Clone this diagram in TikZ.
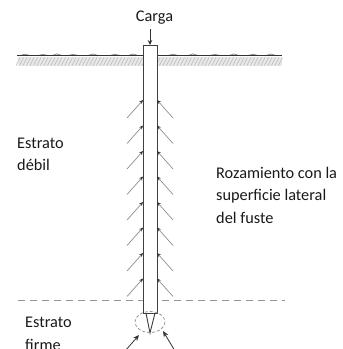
\documentclass[tikz,border=0pt]{standalone}
\usepackage{fontspec}
\setmainfont{Carlito}
\usetikzlibrary{arrows.meta}
\begin{document}
\begin{tikzpicture}[x=1pt,y=-1pt,
  lbl/.style={inner sep=0pt,anchor=west,align=left,text=black!90,font=\fontsize{16.3}{22.5}\selectfont},
  pileline/.style={draw=black!75,line width=0.9pt},
  barb/.style={draw=black!45,line width=0.7pt,-{Stealth[length=4pt,width=3.5pt,black!80]}},
  force/.style={draw=black!80,line width=0.8pt,-{Stealth[length=6pt,width=5pt]}},
  strata/.style={draw=black!30!red!8!gray!80,line width=1pt,dash pattern=on 7pt off 5pt}]
\useasboundingbox (0,0) rectangle (343,349);
\clip (0,0) rectangle (343,349);

% ground surface with hatched soil band
\fill[black!9] (18,57) rectangle (282,66);
\foreach \x in {16,19.5,...,280}{
  \draw[black!28,line width=0.6pt] (\x,65.5) -- (\x+4,57.5);
}
\foreach \x/\h in {20/1.3,38/1,52/1.6,68/1.1,88/1.5,110/1.2,128/1.4,168/1.3,188/1.6,210/1.1,229/1.5,248/1.2,266/1.4}{
  \draw[black!45,line width=0.8pt] (\x,55.5) -- (\x+5,55.5-\h) -- (\x+10,55.5);
}
\draw[black!80,line width=1.3pt] (17,55.7) -- (282,55.7);

% boundary between weak and firm strata
\draw[strata] (18,300) -- (285,300);

% pile shaft and tip
\coordinate (tipL) at (146,313);
\coordinate (tipR) at (155,313);
\coordinate (apex) at (150,333);
\filldraw[pileline,fill=white] (143,45) rectangle (157,313);
\draw[pileline] (tipL) -- (apex) -- (tipR);

% end bearing zone
\draw[black!40,line width=0.8pt,dash pattern=on 3pt off 2pt] (150,322) ellipse [x radius=15, y radius=10.5];

% applied load
\node[lbl,anchor=center] (carga) at (154.5,18) {Carga};
\coordinate (top) at (150,45);
\draw[force,-{Stealth[length=5pt,width=4.5pt]}] (carga.south -| top) ++(0,4) coordinate (ld) (ld) -- (top);

% shaft friction arrows
\foreach \i in {0,...,7}{
  \pgfmathsetmacro{\yy}{100+25.5*\i}
  \coordinate (pl\i) at (143,\yy);
  \coordinate (pr\i) at (157,\yy);
  \coordinate (sl\i) at (127,\yy+18);
  \coordinate (sr\i) at (173,\yy+18);
  \draw[barb] (sl\i) -- (pl\i);
  \draw[barb] (sr\i) -- (pr\i);
}

% end bearing reactions
\coordinate (bl) at (125,351);
\coordinate (bla) at (139,335);
\coordinate (br) at (175,351);
\coordinate (bra) at (163,331);
\draw[force] (bl) -- (bla);
\draw[force] (br) -- (bra);

% labels
\node[lbl] (debil) at (17,154.5) {Estrato\\débil};
\node[lbl] (roz) at (216,195) {Rozamiento con la\\superficie lateral\\del fuste};
\node[lbl] (firme) at (25,334) {Estrato\\firme};
\end{tikzpicture}
\end{document}
